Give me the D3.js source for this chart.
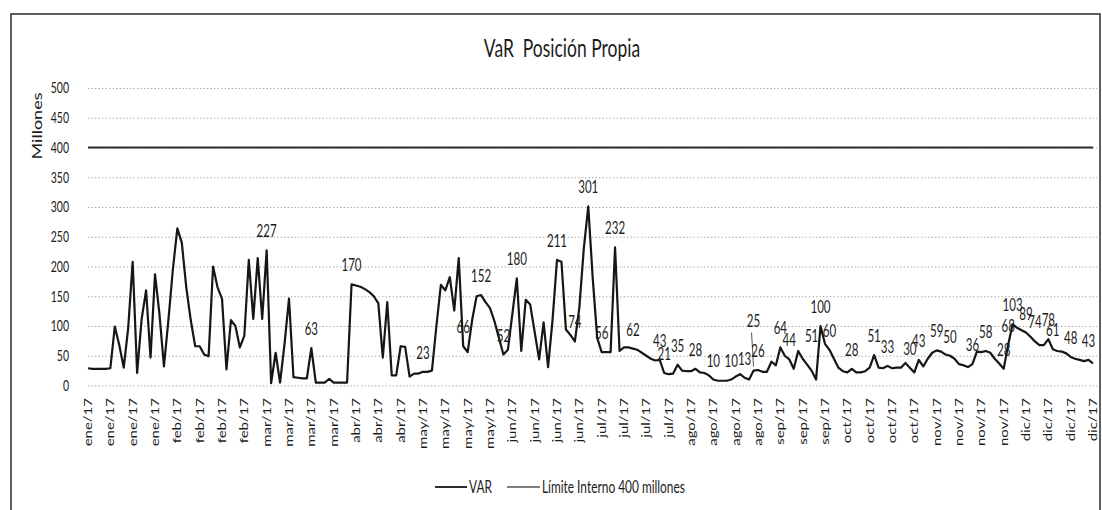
<!DOCTYPE html>
<html>
<head>
<meta charset="utf-8">
<script src="https://cdn.jsdelivr.net/npm/d3@7"></script>
<style>
    body { margin: 0; background: #fff; }
    svg text { font-family: Lato, "Open Sans", sans-serif; fill: #1c1c1c; }
</style>
</head>
<body>
<svg id="chart" width="1102" height="510"></svg>
<script>
const TICK_LABELS = [
    'ene/17', 'ene/17', 'ene/17', 'ene/17',
    'feb/17', 'feb/17', 'feb/17', 'feb/17',
    'mar/17', 'mar/17', 'mar/17', 'mar/17',
    'abr/17', 'abr/17', 'abr/17',
    'may/17', 'may/17', 'may/17', 'may/17',
    'jun/17', 'jun/17', 'jun/17', 'jun/17',
    'jul/17', 'jul/17', 'jul/17', 'jul/17',
    'ago/17', 'ago/17', 'ago/17', 'ago/17',
    'sep/17', 'sep/17', 'sep/17',
    'oct/17', 'oct/17', 'oct/17', 'oct/17',
    'nov/17', 'nov/17', 'nov/17', 'nov/17',
    'dic/17', 'dic/17', 'dic/17', 'dic/17'
];
const TICK_EVERY = 5;   // one label every 5 business days

// daily VaR, millones
const VAR = [
    29, 28, 28, 28, 28, 29, 99, 68, 30, 97,
    208, 21, 111, 160, 47, 187, 120, 32, 110, 195,
    264, 240, 165, 110, 66, 66, 52, 49, 200, 165,
    146, 27, 110, 100, 64, 84, 211, 112, 214, 112,
    227, 4, 55, 5, 70, 146, 14, 13, 12, 12,
    63, 5, 5, 5, 11, 5, 5, 5, 5, 170,
    168, 166, 162, 157, 150, 138, 47, 140, 17, 17,
    66, 65, 15, 20, 20, 23, 23, 25, 100, 169,
    160, 182, 126, 214, 66, 56, 110, 150, 152, 140,
    130, 108, 80, 52, 60, 120, 180, 58, 144, 136,
    90, 44, 106, 31, 110, 211, 208, 94, 85, 74,
    131, 230, 301, 180, 80, 56, 56, 56, 232, 58,
    64, 64, 62, 60, 55, 50, 45, 42, 43, 21,
    19, 20, 35, 25, 24, 24, 28, 22, 21, 17,
    10, 8, 8, 8, 10, 15, 19, 13, 10, 25,
    26, 23, 23, 40, 34, 64, 50, 44, 28, 58,
    45, 35, 25, 10, 100, 70, 60, 45, 30, 24,
    22, 28, 22, 22, 24, 30, 51, 30, 29, 33,
    29, 30, 30, 38, 30, 22, 43, 32, 45, 55,
    59, 57, 52, 50, 45, 36, 34, 31, 36, 57,
    56, 58, 55, 45, 37, 28, 68, 103, 97, 93,
    89, 82, 74, 68, 68, 78, 61, 58, 57, 54,
    48, 45, 43, 41, 43, 37
];
const LIMIT = 400;

// data labels that are shown on the chart
const LABEL_IDX = [40, 50, 59, 75, 84, 88, 93, 96, 105, 109,
    112, 115, 118, 122, 128, 129, 132, 136, 140, 144,
    147, 149, 150, 155, 157, 162, 164, 166, 171, 176,
    179, 184, 186, 190, 193, 198, 201, 205, 206, 207,
    210, 212, 215, 216, 220, 224];
const LABEL_VAL = [227, 63, 170, 23, 66, 152, 52, 180, 211, 74,
    301, 56, 232, 62, 43, 21, 35, 28, 10, 10,
    13, 25, 26, 64, 44, 51, 100, 60, 28, 51,
    33, 30, 43, 59, 50, 36, 58, 28, 68, 103,
    89, 74, 78, 61, 48, 43];
const LEADER_IDX = [149];   // label pulled up with a leader line

const Y_TICKS = [0, 50, 100, 150, 200, 250, 300, 350, 400, 450, 500];

// the source is a scan squeezed horizontally, so draw wide and squeeze
const SX = 0.7;
const vx = px => px / SX;

const svg = d3.select('#chart');
const g = svg.append('g').attr('transform', `scale(${SX},1)`);

const x = d3.scaleLinear()
    .domain([0, VAR.length - 1])
    .range([vx(88), vx(1093)]);
const y = d3.scaleLinear()
    .domain([0, 500])
    .range([385.5, 88]);

// chart frame
g.append('rect')
    .attr('x', vx(11)).attr('y', 14)
    .attr('width', vx(1089)).attr('height', 520)
    .attr('fill', 'none')
    .attr('stroke', '#2a2a2a')
    .attr('stroke-width', 1.5)
    .attr('vector-effect', 'non-scaling-stroke');

// title
g.append('text')
    .attr('x', vx(562)).attr('y', 57)
    .attr('text-anchor', 'middle')
    .style('white-space', 'pre')
    .style('font-size', '25px')
    .text('VaR  Posición Propia');

// grid
const grid = g.append('g')
    .attr('transform', `translate(${x.range()[0]},0)`)
    .call(d3.axisLeft(y).tickValues(Y_TICKS).tickFormat('')
        .tickSize(-(vx(1097) - x.range()[0])));
grid.select('.domain').remove();
grid.selectAll('line')
    .attr('stroke', '#9a9a9a')
    .attr('stroke-width', 1)
    .attr('stroke-dasharray', '2 3');

// y axis labels
const yAxis = g.append('g')
    .attr('transform', `translate(${vx(69)},0)`)
    .call(d3.axisLeft(y).tickValues(Y_TICKS).tickSize(0).tickPadding(0));
yAxis.select('.domain').remove();
yAxis.selectAll('text').style('font-size', '15px');

g.append('text')
    .attr('transform', `translate(${vx(38)},126) rotate(-90)`)
    .attr('text-anchor', 'middle')
    .attr('dy', '0.35em')
    .style('font-size', '18px')
    .text('Millones');

// x axis labels
const tickIdx = TICK_LABELS.map((_, k) => k * TICK_EVERY);
const xAxis = g.append('g')
    .attr('transform', 'translate(0,398)')
    .call(d3.axisBottom(x).tickValues(tickIdx)
        .tickFormat((d, k) => TICK_LABELS[k]).tickSize(0).tickPadding(0));
xAxis.select('.domain').remove();
xAxis.selectAll('text')
    .attr('transform', 'rotate(-90)')
    .attr('x', 0).attr('y', 0)
    .attr('dy', '0.35em')
    .attr('text-anchor', 'end')
    .style('font-size', '15px');

// series
const line = d3.line()
    .x((d, i) => x(i))
    .y(d => y(d));

g.append('path')
    .datum(VAR.map(() => LIMIT))
    .attr('d', line)
    .attr('fill', 'none')
    .attr('stroke', '#2b2b2b')
    .attr('stroke-width', 2.2)
    .attr('vector-effect', 'non-scaling-stroke');

g.append('path')
    .datum(VAR)
    .attr('d', line)
    .attr('fill', 'none')
    .attr('stroke', '#161616')
    .attr('stroke-width', 2.2)
    .attr('stroke-linejoin', 'round')
    .attr('vector-effect', 'non-scaling-stroke');

// data labels
const labels = LABEL_IDX.map((idx, k) => ({
    idx: idx,
    val: LABEL_VAL[k],
    lift: LEADER_IDX.includes(idx) ? 44 : 13
}));

g.selectAll('.leader')
    .data(labels.filter(d => LEADER_IDX.includes(d.idx)))
    .join('line')
    .attr('class', 'leader')
    .attr('x1', d => x(d.idx) - vx(2)).attr('y1', d => y(d.val) - d.lift + 6)
    .attr('x2', d => x(d.idx)).attr('y2', d => y(d.val) - 4)
    .attr('stroke', '#555')
    .attr('stroke-width', 1)
    .attr('vector-effect', 'non-scaling-stroke');

g.selectAll('.dlabel')
    .data(labels)
    .join('text')
    .attr('class', 'dlabel')
    .attr('x', d => x(d.idx))
    .attr('y', d => y(d.val) - d.lift)
    .attr('text-anchor', 'middle')
    .style('font-size', '16.5px')
    .text(d => d.val);

// legend
const legend = g.append('g').attr('transform', 'translate(0,487)');
const items = [
    { name: 'VAR', x0: 435, x1: 467, color: '#161616', w: 1.8 },
    { name: 'Límite Interno 400 millones', x0: 507, x1: 540, color: '#555', w: 1.3 }
];
items.forEach(it => {
    legend.append('line')
        .attr('x1', vx(it.x0)).attr('x2', vx(it.x1))
        .attr('stroke', it.color)
        .attr('stroke-width', it.w)
        .attr('vector-effect', 'non-scaling-stroke');
    legend.append('text')
        .attr('x', vx(it.x1 + 2))
        .attr('dy', '0.35em')
        .style('font-size', '17px')
        .text(it.name);
});
</script>
</body>
</html>
